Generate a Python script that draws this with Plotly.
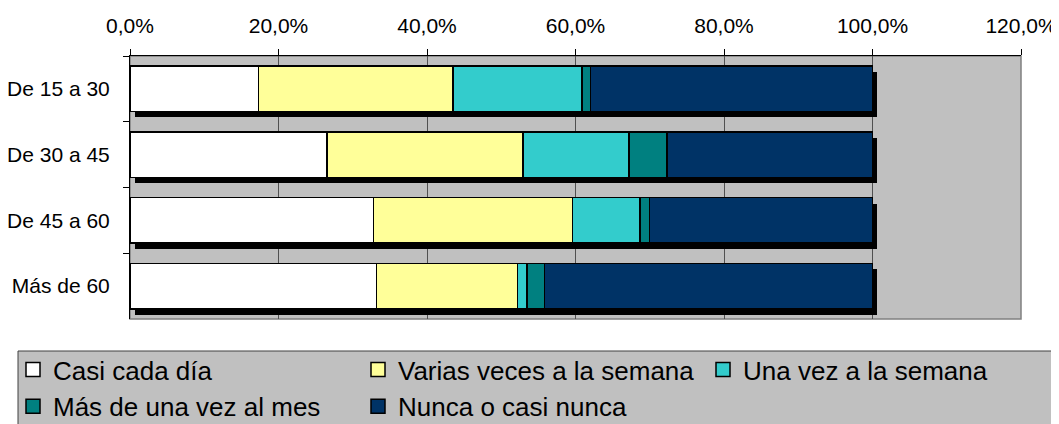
import plotly.graph_objects as go

categories = ["De 15 a 30", "De 30 a 45", "De 45 a 60", "Más de 60"]
series_names = ["Casi cada día", "Varias veces a la semana", "Una vez a la semana",
                "Más de una vez al mes", "Nunca o casi nunca"]
casi_cada_dia = [17.3, 26.5, 32.8, 33.2]
varias_veces = [26.2, 26.4, 26.8, 19.0]
una_vez_semana = [17.35, 14.3, 9.1, 1.25]
mas_una_vez_mes = [1.15, 5.1, 1.25, 2.35]
nunca = [38.0, 27.7, 30.05, 44.2]
series_values = [casi_cada_dia, varias_veces, una_vez_semana, mas_una_vez_mes, nunca]
colors = ["#FFFFFF", "#FFFF99", "#33CCCC", "#008080", "#003366"]
legend_columns = ["legend", "legend2", "legend3", "legend", "legend2"]
x_tickvals = [0, 20, 40, 60, 80, 100, 120]
x_ticktext = ["0,0%", "20,0%", "40,0%", "60,0%", "80,0%", "100,0%", "120,0%"]

totals = [sum(v) for v in zip(*series_values)]

# the page body adds an 8px margin: figure is drawn 8px right / down
OFF = 8
W, H = 1059 - OFF, 424 - OFF
ML, MR, MT, MB = 122, 38, 48, 105
PW, PH = W - ML - MR, H - MT - MB

def px(x):
    """screen x (reference pixels) -> paper x"""
    return (x - OFF - ML) / PW

def py(y):
    """screen y (reference pixels) -> paper y"""
    return (H - MB - (y - OFF)) / PH

BAR_W = 0.69
FONT = "Liberation Sans, Arial, sans-serif"

fig = go.Figure()

# drop shadow of each bar
fig.add_trace(go.Bar(
    y=categories, x=totals, base=0.65, orientation="h",
    width=BAR_W, offset=-BAR_W / 2 + 0.09,
    marker=dict(color="black", line=dict(width=0)),
    showlegend=False, hoverinfo="skip",
))

for name, vals, col in zip(series_names, series_values, colors):
    fig.add_trace(go.Bar(
        y=categories, x=vals, name=name, orientation="h",
        width=BAR_W, showlegend=False, legendgroup=name,
        marker=dict(color=col, line=dict(color="black", width=1.5)),
    ))

# legend entries (square swatches like the original legend)
for name, col, lg in zip(series_names, colors, legend_columns):
    fig.add_trace(go.Scatter(
        x=[None], y=[None], mode="markers", name=name, legend=lg,
        legendgroup=name, showlegend=True, hoverinfo="skip",
        marker=dict(symbol="square", size=14, color=col,
                    line=dict(color="black", width=1.5)),
    ))

shapes = [
    # plot area border (right / bottom in gray)
    dict(type="rect", xref="paper", yref="paper", x0=0, x1=1, y0=0, y1=1,
         line=dict(color="#808080", width=1.5), layer="below"),
    # legend shadow
    dict(type="rect", xref="paper", yref="paper",
         x0=px(1046), x1=px(1060), y0=py(440), y1=py(356),
         fillcolor="black", line=dict(width=0), layer="above"),
    # legend box
    dict(type="rect", xref="paper", yref="paper",
         x0=px(18), x1=px(1052), y0=py(440), y1=py(351),
         fillcolor="#C0C0C0", line=dict(color="#404040", width=1), layer="above"),
]

legend_common = dict(
    orientation="v", yanchor="top", xanchor="left",
    bgcolor="rgba(0,0,0,0)", borderwidth=0,
    font=dict(family=FONT, size=26, color="black"),
    traceorder="normal", itemsizing="trace", tracegroupgap=0,
)
LEG_TOP = py(346)

fig.update_layout(
    width=W, height=H,
    margin=dict(l=ML, r=MR, t=MT, b=MB, pad=0, autoexpand=False),
    barmode="stack",
    paper_bgcolor="white",
    plot_bgcolor="#C0C0C0",
    font=dict(family=FONT, size=21, color="black"),
    shapes=shapes,
    showlegend=True,
    legend=dict(x=px(OFF + 5), y=LEG_TOP, **legend_common),
    legend2=dict(x=px(OFF + 350), y=LEG_TOP, **legend_common),
    legend3=dict(x=px(OFF + 695), y=LEG_TOP, **legend_common),
    xaxis=dict(
        side="top", range=[0, 120], tickvals=x_tickvals, ticktext=x_ticktext,
        showgrid=True, gridcolor="#505050", gridwidth=1,
        ticks="outside", ticklen=6, tickcolor="black", tickwidth=1,
        showline=True, linecolor="black", linewidth=1,
        zeroline=False, ticklabelstandoff=8, automargin=False,
    ),
    yaxis=dict(
        autorange="reversed", type="category", categoryorder="array",
        categoryarray=categories,
        tickson="boundaries", ticks="outside", ticklen=6, tickcolor="black",
        showline=True, linecolor="black", linewidth=1,
        showgrid=False, ticklabelstandoff=15, automargin=False,
    ),
)

fig.write_html("out.html")
